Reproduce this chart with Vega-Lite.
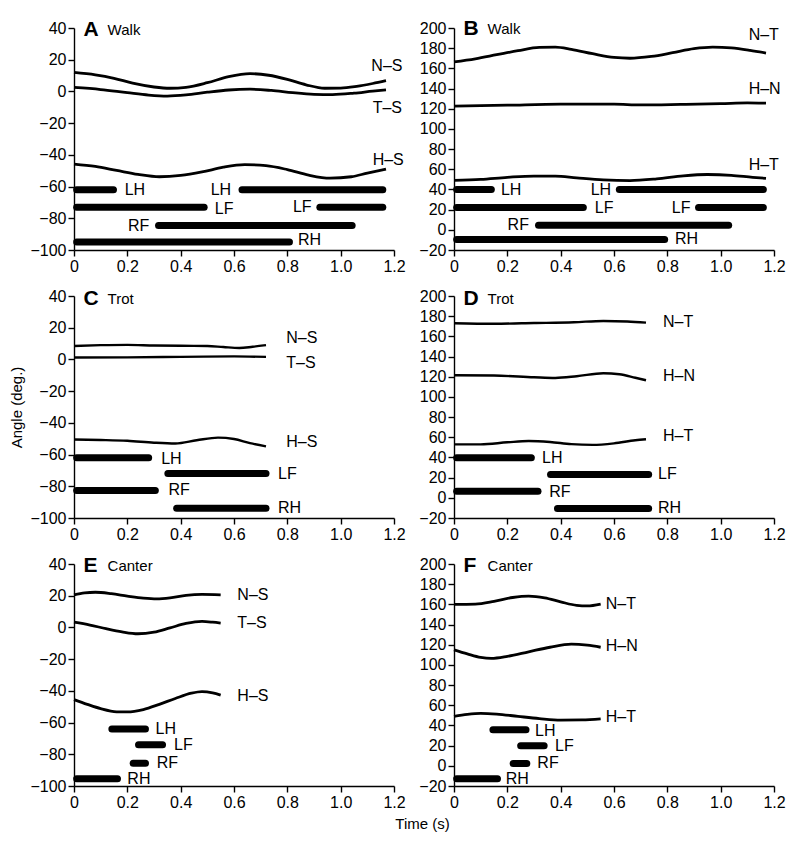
{
"$schema": "https://vega.github.io/schema/vega-lite/v6.json",
"padding": {"left": 9, "top": 18, "right": 5, "bottom": 5},
"columns": 2,
"spacing": {"row": 46, "column": 60},
"bounds": "flush",
"config": {
  "view": {"stroke": null},
  "font": "Liberation Sans",
  "axis": {"grid": false, "domainColor": "black", "tickColor": "black", "labelColor": "black", "labelFontSize": 16, "domainWidth": 1.4, "tickWidth": 1.4, "tickSize": 6, "labelPadding": 2, "labelFlush": false, "labelOverlap": false, "tickCount": 20, "titleFontWeight": "normal", "titleFontSize": 15, "titleColor": "black"},
  "line": {"color": "black", "strokeWidth": 2.8, "interpolate": "monotone"},
  "rule": {"color": "black", "strokeWidth": 7, "strokeCap": "round"},
  "text": {"color": "black", "fontSize": 16, "align": "left", "baseline": "middle"}
},
"datasets": {
"lines": [
{"panel":"A","series":"N–S","t":0,"angle":12},{"panel":"A","series":"N–S","t":0.08,"angle":10.5},{"panel":"A","series":"N–S","t":0.15,"angle":8.3},{"panel":"A","series":"N–S","t":0.22,"angle":5.2},{"panel":"A","series":"N–S","t":0.3,"angle":2.8},{"panel":"A","series":"N–S","t":0.36,"angle":2},{"panel":"A","series":"N–S","t":0.42,"angle":2.6},{"panel":"A","series":"N–S","t":0.5,"angle":5.5},{"panel":"A","series":"N–S","t":0.58,"angle":9.3},{"panel":"A","series":"N–S","t":0.66,"angle":11.2},{"panel":"A","series":"N–S","t":0.73,"angle":10.2},{"panel":"A","series":"N–S","t":0.8,"angle":7.6},{"panel":"A","series":"N–S","t":0.87,"angle":4.2},{"panel":"A","series":"N–S","t":0.94,"angle":2},{"panel":"A","series":"N–S","t":1.0,"angle":2.1},{"panel":"A","series":"N–S","t":1.06,"angle":3.2},{"panel":"A","series":"N–S","t":1.12,"angle":5},{"panel":"A","series":"N–S","t":1.17,"angle":6.8},
{"panel":"A","series":"T–S","t":0,"angle":2.5},{"panel":"A","series":"T–S","t":0.1,"angle":1.2},{"panel":"A","series":"T–S","t":0.2,"angle":-0.8},{"panel":"A","series":"T–S","t":0.28,"angle":-2.3},{"panel":"A","series":"T–S","t":0.35,"angle":-2.9},{"panel":"A","series":"T–S","t":0.42,"angle":-2.2},{"panel":"A","series":"T–S","t":0.5,"angle":-0.5},{"panel":"A","series":"T–S","t":0.58,"angle":0.9},{"panel":"A","series":"T–S","t":0.66,"angle":1.4},{"panel":"A","series":"T–S","t":0.74,"angle":0.6},{"panel":"A","series":"T–S","t":0.82,"angle":-0.8},{"panel":"A","series":"T–S","t":0.9,"angle":-1.8},{"panel":"A","series":"T–S","t":0.97,"angle":-2},{"panel":"A","series":"T–S","t":1.05,"angle":-1.1},{"panel":"A","series":"T–S","t":1.12,"angle":0.2},{"panel":"A","series":"T–S","t":1.17,"angle":1},
{"panel":"A","series":"H–S","t":0,"angle":-45.8},{"panel":"A","series":"H–S","t":0.08,"angle":-47.3},{"panel":"A","series":"H–S","t":0.16,"angle":-49.8},{"panel":"A","series":"H–S","t":0.24,"angle":-52.3},{"panel":"A","series":"H–S","t":0.32,"angle":-53.8},{"panel":"A","series":"H–S","t":0.4,"angle":-53},{"panel":"A","series":"H–S","t":0.48,"angle":-50.8},{"panel":"A","series":"H–S","t":0.56,"angle":-47.8},{"panel":"A","series":"H–S","t":0.64,"angle":-46.2},{"panel":"A","series":"H–S","t":0.72,"angle":-46.8},{"panel":"A","series":"H–S","t":0.8,"angle":-49.3},{"panel":"A","series":"H–S","t":0.88,"angle":-52.8},{"panel":"A","series":"H–S","t":0.96,"angle":-54.7},{"panel":"A","series":"H–S","t":1.04,"angle":-53.8},{"panel":"A","series":"H–S","t":1.1,"angle":-51.5},{"panel":"A","series":"H–S","t":1.17,"angle":-49},
{"panel":"B","series":"N–T","t":0,"angle":166.5},{"panel":"B","series":"N–T","t":0.08,"angle":169.5},{"panel":"B","series":"N–T","t":0.16,"angle":173.5},{"panel":"B","series":"N–T","t":0.24,"angle":177.5},{"panel":"B","series":"N–T","t":0.32,"angle":180.8},{"panel":"B","series":"N–T","t":0.38,"angle":181},{"panel":"B","series":"N–T","t":0.44,"angle":178.8},{"panel":"B","series":"N–T","t":0.52,"angle":174.5},{"panel":"B","series":"N–T","t":0.6,"angle":170.8},{"panel":"B","series":"N–T","t":0.66,"angle":170},{"panel":"B","series":"N–T","t":0.74,"angle":171.8},{"panel":"B","series":"N–T","t":0.82,"angle":175.5},{"panel":"B","series":"N–T","t":0.9,"angle":179.5},{"panel":"B","series":"N–T","t":0.97,"angle":181},{"panel":"B","series":"N–T","t":1.04,"angle":180.2},{"panel":"B","series":"N–T","t":1.11,"angle":177.8},{"panel":"B","series":"N–T","t":1.17,"angle":175.2},
{"panel":"B","series":"H–N","t":0,"angle":122.5},{"panel":"B","series":"H–N","t":0.2,"angle":123.5},{"panel":"B","series":"H–N","t":0.4,"angle":124.5},{"panel":"B","series":"H–N","t":0.6,"angle":124.5},{"panel":"B","series":"H–N","t":0.7,"angle":123.8},{"panel":"B","series":"H–N","t":0.85,"angle":124.3},{"panel":"B","series":"H–N","t":1.0,"angle":125},{"panel":"B","series":"H–N","t":1.1,"angle":125.8},{"panel":"B","series":"H–N","t":1.17,"angle":125.5},
{"panel":"B","series":"H–T","t":0,"angle":49},{"panel":"B","series":"H–T","t":0.1,"angle":50},{"panel":"B","series":"H–T","t":0.2,"angle":52},{"panel":"B","series":"H–T","t":0.3,"angle":53.3},{"panel":"B","series":"H–T","t":0.38,"angle":53.3},{"panel":"B","series":"H–T","t":0.46,"angle":51.5},{"panel":"B","series":"H–T","t":0.56,"angle":49.5},{"panel":"B","series":"H–T","t":0.66,"angle":48.8},{"panel":"B","series":"H–T","t":0.76,"angle":50.5},{"panel":"B","series":"H–T","t":0.86,"angle":53.5},{"panel":"B","series":"H–T","t":0.95,"angle":54.8},{"panel":"B","series":"H–T","t":1.04,"angle":54},{"panel":"B","series":"H–T","t":1.12,"angle":52},{"panel":"B","series":"H–T","t":1.17,"angle":51},
{"panel":"C","series":"N–S","t":0,"angle":8.5},{"panel":"C","series":"N–S","t":0.1,"angle":9},{"panel":"C","series":"N–S","t":0.2,"angle":9.2},{"panel":"C","series":"N–S","t":0.3,"angle":8.8},{"panel":"C","series":"N–S","t":0.4,"angle":8.6},{"panel":"C","series":"N–S","t":0.5,"angle":8.5},{"panel":"C","series":"N–S","t":0.56,"angle":7.8},{"panel":"C","series":"N–S","t":0.62,"angle":7.2},{"panel":"C","series":"N–S","t":0.67,"angle":8},{"panel":"C","series":"N–S","t":0.72,"angle":9},
{"panel":"C","series":"T–S","t":0,"angle":1.2},{"panel":"C","series":"T–S","t":0.2,"angle":1.3},{"panel":"C","series":"T–S","t":0.4,"angle":1.6},{"panel":"C","series":"T–S","t":0.6,"angle":1.9},{"panel":"C","series":"T–S","t":0.72,"angle":1.6},
{"panel":"C","series":"H–S","t":0,"angle":-50.5},{"panel":"C","series":"H–S","t":0.1,"angle":-50.8},{"panel":"C","series":"H–S","t":0.2,"angle":-51.3},{"panel":"C","series":"H–S","t":0.3,"angle":-52.5},{"panel":"C","series":"H–S","t":0.38,"angle":-53},{"panel":"C","series":"H–S","t":0.46,"angle":-51},{"panel":"C","series":"H–S","t":0.54,"angle":-49.3},{"panel":"C","series":"H–S","t":0.6,"angle":-50.2},{"panel":"C","series":"H–S","t":0.66,"angle":-52.8},{"panel":"C","series":"H–S","t":0.72,"angle":-54.8},
{"panel":"D","series":"N–T","t":0,"angle":173},{"panel":"D","series":"N–T","t":0.15,"angle":172.5},{"panel":"D","series":"N–T","t":0.3,"angle":173.2},{"panel":"D","series":"N–T","t":0.45,"angle":174},{"panel":"D","series":"N–T","t":0.56,"angle":175.3},{"panel":"D","series":"N–T","t":0.65,"angle":174.8},{"panel":"D","series":"N–T","t":0.72,"angle":173.6},
{"panel":"D","series":"H–N","t":0,"angle":121.5},{"panel":"D","series":"H–N","t":0.15,"angle":121.2},{"panel":"D","series":"H–N","t":0.3,"angle":119.5},{"panel":"D","series":"H–N","t":0.38,"angle":118.8},{"panel":"D","series":"H–N","t":0.46,"angle":120.5},{"panel":"D","series":"H–N","t":0.56,"angle":123.5},{"panel":"D","series":"H–N","t":0.62,"angle":122.5},{"panel":"D","series":"H–N","t":0.68,"angle":119},{"panel":"D","series":"H–N","t":0.72,"angle":116.5},
{"panel":"D","series":"H–T","t":0,"angle":53},{"panel":"D","series":"H–T","t":0.1,"angle":53},{"panel":"D","series":"H–T","t":0.2,"angle":55},{"panel":"D","series":"H–T","t":0.28,"angle":56.3},{"panel":"D","series":"H–T","t":0.36,"angle":55.3},{"panel":"D","series":"H–T","t":0.44,"angle":53.2},{"panel":"D","series":"H–T","t":0.52,"angle":52.5},{"panel":"D","series":"H–T","t":0.6,"angle":54},{"panel":"D","series":"H–T","t":0.68,"angle":57},{"panel":"D","series":"H–T","t":0.72,"angle":58},
{"panel":"E","series":"N–S","t":0,"angle":20.5},{"panel":"E","series":"N–S","t":0.04,"angle":21.8},{"panel":"E","series":"N–S","t":0.08,"angle":22.2},{"panel":"E","series":"N–S","t":0.14,"angle":21.3},{"panel":"E","series":"N–S","t":0.2,"angle":19.8},{"panel":"E","series":"N–S","t":0.26,"angle":18.5},{"panel":"E","series":"N–S","t":0.31,"angle":18},{"panel":"E","series":"N–S","t":0.36,"angle":18.6},{"panel":"E","series":"N–S","t":0.42,"angle":20.2},{"panel":"E","series":"N–S","t":0.48,"angle":20.8},{"panel":"E","series":"N–S","t":0.55,"angle":20.5},
{"panel":"E","series":"T–S","t":0,"angle":3.3},{"panel":"E","series":"T–S","t":0.06,"angle":1.5},{"panel":"E","series":"T–S","t":0.12,"angle":-0.8},{"panel":"E","series":"T–S","t":0.18,"angle":-2.8},{"panel":"E","series":"T–S","t":0.24,"angle":-4},{"panel":"E","series":"T–S","t":0.3,"angle":-3},{"panel":"E","series":"T–S","t":0.36,"angle":-0.3},{"panel":"E","series":"T–S","t":0.42,"angle":2.5},{"panel":"E","series":"T–S","t":0.48,"angle":3.8},{"panel":"E","series":"T–S","t":0.52,"angle":3.3},{"panel":"E","series":"T–S","t":0.55,"angle":2.7},
{"panel":"E","series":"H–S","t":0,"angle":-45.5},{"panel":"E","series":"H–S","t":0.05,"angle":-48.5},{"panel":"E","series":"H–S","t":0.1,"angle":-51.2},{"panel":"E","series":"H–S","t":0.16,"angle":-53.2},{"panel":"E","series":"H–S","t":0.2,"angle":-53.3},{"panel":"E","series":"H–S","t":0.26,"angle":-51.8},{"panel":"E","series":"H–S","t":0.32,"angle":-48.5},{"panel":"E","series":"H–S","t":0.38,"angle":-44.8},{"panel":"E","series":"H–S","t":0.44,"angle":-41.5},{"panel":"E","series":"H–S","t":0.48,"angle":-40.5},{"panel":"E","series":"H–S","t":0.52,"angle":-41.3},{"panel":"E","series":"H–S","t":0.55,"angle":-42.7},
{"panel":"F","series":"N–T","t":0,"angle":160},{"panel":"F","series":"N–T","t":0.08,"angle":160.3},{"panel":"F","series":"N–T","t":0.15,"angle":163},{"panel":"F","series":"N–T","t":0.22,"angle":166.8},{"panel":"F","series":"N–T","t":0.28,"angle":168.2},{"panel":"F","series":"N–T","t":0.34,"angle":166.5},{"panel":"F","series":"N–T","t":0.4,"angle":162.5},{"panel":"F","series":"N–T","t":0.46,"angle":159},{"panel":"F","series":"N–T","t":0.5,"angle":158.5},{"panel":"F","series":"N–T","t":0.55,"angle":160.3},
{"panel":"F","series":"H–N","t":0,"angle":115},{"panel":"F","series":"H–N","t":0.05,"angle":111},{"panel":"F","series":"H–N","t":0.1,"angle":107.5},{"panel":"F","series":"H–N","t":0.14,"angle":106.5},{"panel":"F","series":"H–N","t":0.2,"angle":108.5},{"panel":"F","series":"H–N","t":0.28,"angle":113},{"panel":"F","series":"H–N","t":0.36,"angle":117.5},{"panel":"F","series":"H–N","t":0.44,"angle":120.5},{"panel":"F","series":"H–N","t":0.5,"angle":119.5},{"panel":"F","series":"H–N","t":0.55,"angle":117.5},
{"panel":"F","series":"H–T","t":0,"angle":49},{"panel":"F","series":"H–T","t":0.05,"angle":51},{"panel":"F","series":"H–T","t":0.1,"angle":52},{"panel":"F","series":"H–T","t":0.16,"angle":51.3},{"panel":"F","series":"H–T","t":0.24,"angle":49},{"panel":"F","series":"H–T","t":0.32,"angle":46.8},{"panel":"F","series":"H–T","t":0.4,"angle":45.3},{"panel":"F","series":"H–T","t":0.48,"angle":45.5},{"panel":"F","series":"H–T","t":0.55,"angle":46.5}
],
"bars": [
{"panel":"A","limb":"LH","start":0.01,"end":0.148,"angle":-62},{"panel":"A","limb":"LH","start":0.63,"end":1.158,"angle":-62},{"panel":"A","limb":"LF","start":0.01,"end":0.488,"angle":-73},{"panel":"A","limb":"LF","start":0.922,"end":1.158,"angle":-73},{"panel":"A","limb":"RF","start":0.317,"end":1.043,"angle":-84.5},{"panel":"A","limb":"RH","start":0.01,"end":0.808,"angle":-95},
{"panel":"B","limb":"LH","start":0.01,"end":0.14,"angle":40},{"panel":"B","limb":"LH","start":0.62,"end":1.16,"angle":40},{"panel":"B","limb":"LF","start":0.01,"end":0.485,"angle":22},{"panel":"B","limb":"LF","start":0.917,"end":1.16,"angle":22},{"panel":"B","limb":"RF","start":0.317,"end":1.03,"angle":4.5},{"panel":"B","limb":"RH","start":0.01,"end":0.79,"angle":-9.5},
{"panel":"C","limb":"LH","start":0.01,"end":0.28,"angle":-62},{"panel":"C","limb":"LF","start":0.352,"end":0.72,"angle":-72},{"panel":"C","limb":"RF","start":0.01,"end":0.305,"angle":-82.7},{"panel":"C","limb":"RH","start":0.385,"end":0.72,"angle":-93.8},
{"panel":"D","limb":"LH","start":0.01,"end":0.29,"angle":39.6},{"panel":"D","limb":"LF","start":0.362,"end":0.73,"angle":23.2},{"panel":"D","limb":"RF","start":0.01,"end":0.315,"angle":6.5},{"panel":"D","limb":"RH","start":0.388,"end":0.73,"angle":-10.5},
{"panel":"E","limb":"LH","start":0.142,"end":0.268,"angle":-64},{"panel":"E","limb":"LF","start":0.242,"end":0.332,"angle":-74},{"panel":"E","limb":"RF","start":0.222,"end":0.268,"angle":-85.6},{"panel":"E","limb":"RH","start":0.01,"end":0.163,"angle":-95.4},
{"panel":"F","limb":"LH","start":0.146,"end":0.27,"angle":35.7},{"panel":"F","limb":"LF","start":0.25,"end":0.338,"angle":20},{"panel":"F","limb":"RF","start":0.222,"end":0.273,"angle":2.3},{"panel":"F","limb":"RH","start":0.01,"end":0.163,"angle":-12.7}
],
"labels": [
{"panel":"A","label":"N–S","t":1.115,"angle":16},{"panel":"A","label":"T–S","t":1.12,"angle":-10.5},{"panel":"A","label":"H–S","t":1.12,"angle":-43.5},{"panel":"A","label":"LH","t":0.19,"angle":-62},{"panel":"A","label":"LH","t":0.5125,"angle":-62},{"panel":"A","label":"LF","t":0.528,"angle":-74},{"panel":"A","label":"LF","t":0.821,"angle":-73},{"panel":"A","label":"RF","t":0.2025,"angle":-84.6},{"panel":"A","label":"RH","t":0.84,"angle":-94},
{"panel":"B","label":"N–T","t":1.105,"angle":193},{"panel":"B","label":"H–N","t":1.105,"angle":140},{"panel":"B","label":"H–T","t":1.105,"angle":64.7},{"panel":"B","label":"LH","t":0.176,"angle":39},{"panel":"B","label":"LH","t":0.5126,"angle":39},{"panel":"B","label":"LF","t":0.528,"angle":22},{"panel":"B","label":"LF","t":0.817,"angle":22},{"panel":"B","label":"RF","t":0.201,"angle":5},{"panel":"B","label":"RH","t":0.829,"angle":-9.5},
{"panel":"C","label":"N–S","t":0.796,"angle":13.8},{"panel":"C","label":"T–S","t":0.796,"angle":-2.5},{"panel":"C","label":"H–S","t":0.796,"angle":-52},{"panel":"C","label":"LH","t":0.327,"angle":-62.5},{"panel":"C","label":"LF","t":0.765,"angle":-72},{"panel":"C","label":"RF","t":0.354,"angle":-82.3},{"panel":"C","label":"RH","t":0.765,"angle":-93.8},
{"panel":"D","label":"N–T","t":0.784,"angle":174.5},{"panel":"D","label":"H–N","t":0.784,"angle":120.8},{"panel":"D","label":"H–T","t":0.784,"angle":60.9},{"panel":"D","label":"LH","t":0.33,"angle":39.6},{"panel":"D","label":"LF","t":0.765,"angle":23.2},{"panel":"D","label":"RF","t":0.357,"angle":6.2},{"panel":"D","label":"RH","t":0.765,"angle":-10.5},
{"panel":"E","label":"N–S","t":0.6125,"angle":20.5},{"panel":"E","label":"T–S","t":0.6125,"angle":2.5},{"panel":"E","label":"H–S","t":0.6125,"angle":-43.1},{"panel":"E","label":"LH","t":0.306,"angle":-63.9},{"panel":"E","label":"LF","t":0.375,"angle":-74.1},{"panel":"E","label":"RF","t":0.31,"angle":-85.6},{"panel":"E","label":"RH","t":0.2,"angle":-95.3},
{"panel":"F","label":"N–T","t":0.569,"angle":160.7},{"panel":"F","label":"H–N","t":0.569,"angle":119},{"panel":"F","label":"H–T","t":0.569,"angle":48.3},{"panel":"F","label":"LH","t":0.304,"angle":35},{"panel":"F","label":"LF","t":0.379,"angle":20},{"panel":"F","label":"RF","t":0.3125,"angle":2.3},{"panel":"F","label":"RH","t":0.194,"angle":-13.3}
],
"titles": [
{"panel":"A","letter":"A","gait":"Walk","t":0.036,"angle":39},
{"panel":"B","letter":"B","gait":"Walk","t":0.036,"angle":199},
{"panel":"C","letter":"C","gait":"Trot","t":0.036,"angle":38},
{"panel":"D","letter":"D","gait":"Trot","t":0.036,"angle":197.5},
{"panel":"E","letter":"E","gait":"Canter","t":0.036,"angle":38.5},
{"panel":"F","letter":"F","gait":"Canter","t":0.036,"angle":198}
]
},
"concat": [
{"width": 320, "height": 222,
 "layer": [
  {"data": {"name": "lines"}, "transform": [{"filter": "datum.panel == 'A'"}], "mark": "line",
   "encoding": {"x": {"field": "t", "type": "quantitative", "scale": {"domain": [0, 1.2], "nice": false}, "axis": {"title": null, "labelOverlap": false, "tickCount": 20, "values": [0,0.2,0.4,0.6,0.8,1.0,1.2], "labelExpr": "datum.value == 0 ? '0' : format(datum.value, '.1f')"}},
    "y": {"field": "angle", "type": "quantitative", "scale": {"domain": [-100, 40], "nice": false}, "axis": {"title": null, "labelOverlap": false, "tickCount": 20, "values": [-100,-80,-60,-40,-20,0,20,40]}},
    "detail": {"field": "series"}}},
  {"data": {"name": "bars"}, "transform": [{"filter": "datum.panel == 'A'"}], "mark": "rule",
   "encoding": {"x": {"field": "start", "type": "quantitative"}, "x2": {"field": "end"}, "y": {"field": "angle", "type": "quantitative"}}},
  {"data": {"name": "labels"}, "transform": [{"filter": "datum.panel == 'A'"}], "mark": "text",
   "encoding": {"x": {"field": "t", "type": "quantitative"}, "y": {"field": "angle", "type": "quantitative"}, "text": {"field": "label"}}},
  {"data": {"name": "titles"}, "transform": [{"filter": "datum.panel == 'A'"}], "mark": {"type": "text", "fontSize": 21, "fontWeight": "bold"},
   "encoding": {"x": {"field": "t", "type": "quantitative"}, "y": {"field": "angle", "type": "quantitative"}, "text": {"field": "letter"}}},
  {"data": {"name": "titles"}, "transform": [{"filter": "datum.panel == 'A'"}], "mark": {"type": "text", "fontSize": 15, "dx": 24},
   "encoding": {"x": {"field": "t", "type": "quantitative"}, "y": {"field": "angle", "type": "quantitative"}, "text": {"field": "gait"}}}
 ]},
{"width": 320, "height": 222,
 "layer": [
  {"data": {"name": "lines"}, "transform": [{"filter": "datum.panel == 'B'"}], "mark": "line",
   "encoding": {"x": {"field": "t", "type": "quantitative", "scale": {"domain": [0, 1.2], "nice": false}, "axis": {"title": null, "labelOverlap": false, "tickCount": 20, "values": [0,0.2,0.4,0.6,0.8,1.0,1.2], "labelExpr": "datum.value == 0 ? '0' : format(datum.value, '.1f')"}},
    "y": {"field": "angle", "type": "quantitative", "scale": {"domain": [-20, 200], "nice": false}, "axis": {"title": null, "labelOverlap": false, "tickCount": 20, "values": [-20,0,20,40,60,80,100,120,140,160,180,200]}},
    "detail": {"field": "series"}}},
  {"data": {"name": "bars"}, "transform": [{"filter": "datum.panel == 'B'"}], "mark": "rule",
   "encoding": {"x": {"field": "start", "type": "quantitative"}, "x2": {"field": "end"}, "y": {"field": "angle", "type": "quantitative"}}},
  {"data": {"name": "labels"}, "transform": [{"filter": "datum.panel == 'B'"}], "mark": "text",
   "encoding": {"x": {"field": "t", "type": "quantitative"}, "y": {"field": "angle", "type": "quantitative"}, "text": {"field": "label"}}},
  {"data": {"name": "titles"}, "transform": [{"filter": "datum.panel == 'B'"}], "mark": {"type": "text", "fontSize": 21, "fontWeight": "bold"},
   "encoding": {"x": {"field": "t", "type": "quantitative"}, "y": {"field": "angle", "type": "quantitative"}, "text": {"field": "letter"}}},
  {"data": {"name": "titles"}, "transform": [{"filter": "datum.panel == 'B'"}], "mark": {"type": "text", "fontSize": 15, "dx": 24},
   "encoding": {"x": {"field": "t", "type": "quantitative"}, "y": {"field": "angle", "type": "quantitative"}, "text": {"field": "gait"}}}
 ]},
{"width": 320, "height": 222,
 "layer": [
  {"data": {"name": "lines"}, "transform": [{"filter": "datum.panel == 'C'"}], "mark": {"type": "line", "strokeWidth": 2.4},
   "encoding": {"x": {"field": "t", "type": "quantitative", "scale": {"domain": [0, 1.2], "nice": false}, "axis": {"title": null, "labelOverlap": false, "tickCount": 20, "values": [0,0.2,0.4,0.6,0.8,1.0,1.2], "labelExpr": "datum.value == 0 ? '0' : format(datum.value, '.1f')"}},
    "y": {"field": "angle", "type": "quantitative", "scale": {"domain": [-100, 40], "nice": false}, "axis": {"title": "Angle (deg.)", "titlePadding": 5, "labelOverlap": false, "tickCount": 20, "values": [-100,-80,-60,-40,-20,0,20,40]}},
    "detail": {"field": "series"}}},
  {"data": {"name": "bars"}, "transform": [{"filter": "datum.panel == 'C'"}], "mark": "rule",
   "encoding": {"x": {"field": "start", "type": "quantitative"}, "x2": {"field": "end"}, "y": {"field": "angle", "type": "quantitative"}}},
  {"data": {"name": "labels"}, "transform": [{"filter": "datum.panel == 'C'"}], "mark": "text",
   "encoding": {"x": {"field": "t", "type": "quantitative"}, "y": {"field": "angle", "type": "quantitative"}, "text": {"field": "label"}}},
  {"data": {"name": "titles"}, "transform": [{"filter": "datum.panel == 'C'"}], "mark": {"type": "text", "fontSize": 21, "fontWeight": "bold"},
   "encoding": {"x": {"field": "t", "type": "quantitative"}, "y": {"field": "angle", "type": "quantitative"}, "text": {"field": "letter"}}},
  {"data": {"name": "titles"}, "transform": [{"filter": "datum.panel == 'C'"}], "mark": {"type": "text", "fontSize": 15, "dx": 24},
   "encoding": {"x": {"field": "t", "type": "quantitative"}, "y": {"field": "angle", "type": "quantitative"}, "text": {"field": "gait"}}}
 ]},
{"width": 320, "height": 222,
 "layer": [
  {"data": {"name": "lines"}, "transform": [{"filter": "datum.panel == 'D'"}], "mark": {"type": "line", "strokeWidth": 2.4},
   "encoding": {"x": {"field": "t", "type": "quantitative", "scale": {"domain": [0, 1.2], "nice": false}, "axis": {"title": null, "labelOverlap": false, "tickCount": 20, "values": [0,0.2,0.4,0.6,0.8,1.0,1.2], "labelExpr": "datum.value == 0 ? '0' : format(datum.value, '.1f')"}},
    "y": {"field": "angle", "type": "quantitative", "scale": {"domain": [-20, 200], "nice": false}, "axis": {"title": null, "labelOverlap": false, "tickCount": 20, "values": [-20,0,20,40,60,80,100,120,140,160,180,200]}},
    "detail": {"field": "series"}}},
  {"data": {"name": "bars"}, "transform": [{"filter": "datum.panel == 'D'"}], "mark": "rule",
   "encoding": {"x": {"field": "start", "type": "quantitative"}, "x2": {"field": "end"}, "y": {"field": "angle", "type": "quantitative"}}},
  {"data": {"name": "labels"}, "transform": [{"filter": "datum.panel == 'D'"}], "mark": "text",
   "encoding": {"x": {"field": "t", "type": "quantitative"}, "y": {"field": "angle", "type": "quantitative"}, "text": {"field": "label"}}},
  {"data": {"name": "titles"}, "transform": [{"filter": "datum.panel == 'D'"}], "mark": {"type": "text", "fontSize": 21, "fontWeight": "bold"},
   "encoding": {"x": {"field": "t", "type": "quantitative"}, "y": {"field": "angle", "type": "quantitative"}, "text": {"field": "letter"}}},
  {"data": {"name": "titles"}, "transform": [{"filter": "datum.panel == 'D'"}], "mark": {"type": "text", "fontSize": 15, "dx": 24},
   "encoding": {"x": {"field": "t", "type": "quantitative"}, "y": {"field": "angle", "type": "quantitative"}, "text": {"field": "gait"}}}
 ]},
{"width": 320, "height": 222,
 "layer": [
  {"data": {"name": "lines"}, "transform": [{"filter": "datum.panel == 'E'"}], "mark": "line",
   "encoding": {"x": {"field": "t", "type": "quantitative", "scale": {"domain": [0, 1.2], "nice": false}, "axis": {"title": "Time (s)", "titleX": 348, "titlePadding": 6, "labelOverlap": false, "tickCount": 20, "values": [0,0.2,0.4,0.6,0.8,1.0,1.2], "labelExpr": "datum.value == 0 ? '0' : format(datum.value, '.1f')"}},
    "y": {"field": "angle", "type": "quantitative", "scale": {"domain": [-100, 40], "nice": false}, "axis": {"title": null, "labelOverlap": false, "tickCount": 20, "values": [-100,-80,-60,-40,-20,0,20,40]}},
    "detail": {"field": "series"}}},
  {"data": {"name": "bars"}, "transform": [{"filter": "datum.panel == 'E'"}], "mark": "rule",
   "encoding": {"x": {"field": "start", "type": "quantitative"}, "x2": {"field": "end"}, "y": {"field": "angle", "type": "quantitative"}}},
  {"data": {"name": "labels"}, "transform": [{"filter": "datum.panel == 'E'"}], "mark": "text",
   "encoding": {"x": {"field": "t", "type": "quantitative"}, "y": {"field": "angle", "type": "quantitative"}, "text": {"field": "label"}}},
  {"data": {"name": "titles"}, "transform": [{"filter": "datum.panel == 'E'"}], "mark": {"type": "text", "fontSize": 21, "fontWeight": "bold"},
   "encoding": {"x": {"field": "t", "type": "quantitative"}, "y": {"field": "angle", "type": "quantitative"}, "text": {"field": "letter"}}},
  {"data": {"name": "titles"}, "transform": [{"filter": "datum.panel == 'E'"}], "mark": {"type": "text", "fontSize": 15, "dx": 24},
   "encoding": {"x": {"field": "t", "type": "quantitative"}, "y": {"field": "angle", "type": "quantitative"}, "text": {"field": "gait"}}}
 ]},
{"width": 320, "height": 222,
 "layer": [
  {"data": {"name": "lines"}, "transform": [{"filter": "datum.panel == 'F'"}], "mark": "line",
   "encoding": {"x": {"field": "t", "type": "quantitative", "scale": {"domain": [0, 1.2], "nice": false}, "axis": {"title": null, "labelOverlap": false, "tickCount": 20, "values": [0,0.2,0.4,0.6,0.8,1.0,1.2], "labelExpr": "datum.value == 0 ? '0' : format(datum.value, '.1f')"}},
    "y": {"field": "angle", "type": "quantitative", "scale": {"domain": [-20, 200], "nice": false}, "axis": {"title": null, "labelOverlap": false, "tickCount": 20, "values": [-20,0,20,40,60,80,100,120,140,160,180,200]}},
    "detail": {"field": "series"}}},
  {"data": {"name": "bars"}, "transform": [{"filter": "datum.panel == 'F'"}], "mark": "rule",
   "encoding": {"x": {"field": "start", "type": "quantitative"}, "x2": {"field": "end"}, "y": {"field": "angle", "type": "quantitative"}}},
  {"data": {"name": "labels"}, "transform": [{"filter": "datum.panel == 'F'"}], "mark": "text",
   "encoding": {"x": {"field": "t", "type": "quantitative"}, "y": {"field": "angle", "type": "quantitative"}, "text": {"field": "label"}}},
  {"data": {"name": "titles"}, "transform": [{"filter": "datum.panel == 'F'"}], "mark": {"type": "text", "fontSize": 21, "fontWeight": "bold"},
   "encoding": {"x": {"field": "t", "type": "quantitative"}, "y": {"field": "angle", "type": "quantitative"}, "text": {"field": "letter"}}},
  {"data": {"name": "titles"}, "transform": [{"filter": "datum.panel == 'F'"}], "mark": {"type": "text", "fontSize": 15, "dx": 24},
   "encoding": {"x": {"field": "t", "type": "quantitative"}, "y": {"field": "angle", "type": "quantitative"}, "text": {"field": "gait"}}}
 ]}
]
}
